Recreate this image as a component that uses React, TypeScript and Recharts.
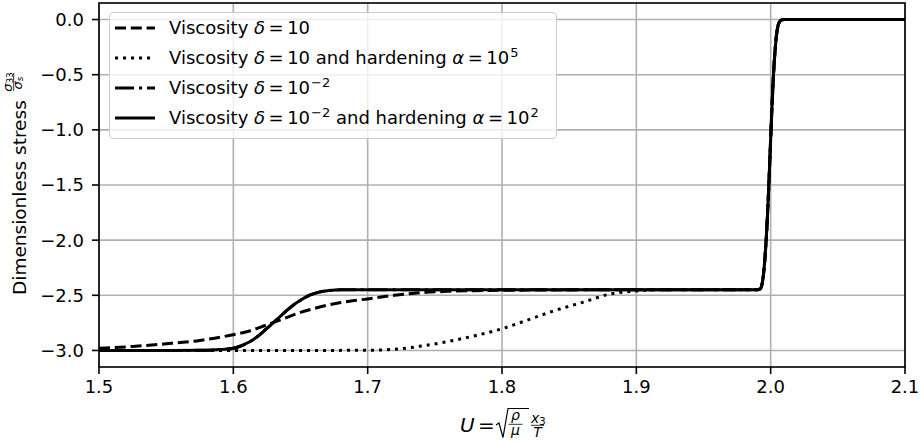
import { LineChart, Line, XAxis, YAxis, CartesianGrid, Legend, ReferenceArea } from 'recharts';

const FONT = 'DejaVu Sans';

// axis ticks
const uTicks = [1.5, 1.6, 1.7, 1.8, 1.9, 2.0, 2.1];
const stressTicks = [-3.0, -2.5, -2.0, -1.5, -1.0, -0.5, 0.0];

// Viscosity δ = 10 (dashed)
const uVisc10 = [1.5, 1.525, 1.55, 1.575, 1.6, 1.61, 1.62, 1.63, 1.64, 1.65, 1.66, 1.67, 1.68, 1.69, 1.7, 1.72, 1.74, 1.76, 1.78, 1.8, 1.85, 1.9, 1.99, 1.992, 1.994, 1.996, 1.998, 2.0, 2.002, 2.004, 2.006, 2.008, 2.01, 2.05, 2.1];
const sVisc10 = [-2.98, -2.964, -2.94, -2.909, -2.857, -2.83, -2.79, -2.745, -2.7, -2.655, -2.62, -2.59, -2.566, -2.548, -2.533, -2.5, -2.476, -2.464, -2.458, -2.455, -2.451, -2.45, -2.45, -2.445, -2.37, -2.12, -1.68, -1.08, -0.52, -0.18, -0.035, -0.004, 0, 0, 0];

// Viscosity δ = 10 and hardening α = 10^5 (dotted)
const uVisc10Hard = [1.5, 1.6, 1.65, 1.7, 1.72, 1.74, 1.76, 1.78, 1.8, 1.82, 1.84, 1.86, 1.88, 1.9, 1.92, 1.99, 1.992, 1.994, 1.996, 1.998, 2.0, 2.002, 2.004, 2.006, 2.008, 2.01, 2.05, 2.1];
const sVisc10Hard = [-3.0, -3.0, -3.0, -2.998, -2.99, -2.96, -2.918, -2.866, -2.803, -2.72, -2.636, -2.564, -2.49, -2.46, -2.45, -2.45, -2.445, -2.37, -2.12, -1.68, -1.08, -0.52, -0.18, -0.035, -0.004, 0, 0, 0];

// Viscosity δ = 10^-2 (dash-dot, lies under the solid curve)
const uVisc001 = [1.5, 1.55, 1.58, 1.59, 1.6, 1.605, 1.61, 1.615, 1.62, 1.625, 1.63, 1.635, 1.64, 1.645, 1.65, 1.655, 1.66, 1.665, 1.67, 1.675, 1.68, 1.7, 1.8, 1.9, 1.99, 1.992, 1.994, 1.996, 1.998, 2.0, 2.002, 2.004, 2.006, 2.008, 2.01, 2.05, 2.1];
const sVisc001 = [-3.0, -3.0, -2.998, -2.992, -2.98, -2.962, -2.935, -2.9, -2.855, -2.8, -2.745, -2.69, -2.635, -2.585, -2.545, -2.51, -2.485, -2.468, -2.458, -2.453, -2.45, -2.45, -2.45, -2.45, -2.45, -2.445, -2.37, -2.12, -1.68, -1.08, -0.52, -0.18, -0.035, -0.004, 0, 0, 0];

// Viscosity δ = 10^-2 and hardening α = 10^2 (solid)
const uVisc001Hard = [1.5, 1.55, 1.58, 1.59, 1.6, 1.605, 1.61, 1.615, 1.62, 1.625, 1.63, 1.635, 1.64, 1.645, 1.65, 1.655, 1.66, 1.665, 1.67, 1.675, 1.68, 1.7, 1.8, 1.9, 1.99, 1.992, 1.994, 1.996, 1.998, 2.0, 2.002, 2.004, 2.006, 2.008, 2.01, 2.05, 2.1];
const sVisc001Hard = [-3.0, -3.0, -2.998, -2.992, -2.98, -2.962, -2.935, -2.9, -2.855, -2.8, -2.745, -2.69, -2.635, -2.585, -2.545, -2.51, -2.485, -2.468, -2.458, -2.453, -2.45, -2.45, -2.45, -2.45, -2.45, -2.445, -2.37, -2.12, -1.68, -1.08, -0.52, -0.18, -0.035, -0.004, 0, 0, 0];

const zip = (u: number[], s: number[]) => u.map((x, i) => ({ u: x, s: s[i] }));

const DASHED = '11 4.8';
const DOTTED = '3 5';
const DASHDOT = '19 5 3 5';

// mathtext-ish bits for the legend
const sup = (t: string) => (
    <span style={{ fontSize: 13, position: 'relative', top: -7, marginLeft: 1 }}>{t}</span>
);
const eq = <span style={{ margin: '0 3.5px' }}>=</span>;

const legendRows = [
    { dash: DASHED, label: <>Viscosity <i>δ</i>{eq}10</> },
    { dash: DOTTED, label: <>Viscosity <i>δ</i>{eq}10 and hardening <i>α</i>{eq}10{sup('5')}</> },
    { dash: DASHDOT, label: <>Viscosity <i>δ</i>{eq}10{sup('−2')}</> },
    { dash: undefined, label: <>Viscosity <i>δ</i>{eq}10{sup('−2')} and hardening <i>α</i>{eq}10{sup('2')}</> },
];

const LegendBox = () => (
    <div style={{
        width: 448, height: 127, boxSizing: 'border-box', border: '1.6px solid #cccccc', borderRadius: 4,
        background: 'rgba(255,255,255,0.8)', fontFamily: FONT, fontSize: 18, color: '#000',
    }}>
        {legendRows.map((r, i) => (
            <div key={i} style={{ display: 'flex', alignItems: 'center', height: 30, whiteSpace: 'nowrap' }}>
                <svg width={40} height={6} style={{ marginLeft: 5, marginRight: 14, flex: 'none' }}>
                    <line x1={0} x2={40} y1={3} y2={3} stroke="#000" strokeWidth={3} strokeDasharray={r.dash} />
                </svg>
                <span>{r.label}</span>
            </div>
        ))}
    </div>
);

// U = sqrt(rho/mu) x3/T
const XLabelMath = () => (
    <g fontFamily={FONT} fill="#000">
        <text x={460} y={431.7} fontSize={20} fontStyle="italic">U</text>
        <text x={478} y={431.7} fontSize={20}>=</text>
        <path d="M496 425 L499 423 L503 437.5 L508 408.5 L529 408.5" fill="none" stroke="#000" strokeWidth={1.2} />
        <text x={515.5} y={419.5} fontSize={14} fontStyle="italic" textAnchor="middle">ρ</text>
        <line x1={508.5} x2={522.5} y1={424.3} y2={424.3} stroke="#000" strokeWidth={0.8} />
        <text x={515.5} y={434.5} fontSize={14} fontStyle="italic" textAnchor="middle">μ</text>
        <text x={531} y={422.7} fontSize={14} fontStyle="italic">x<tspan fontSize={10} fontStyle="normal" dy={2}>3</tspan></text>
        <line x1={531} x2={544} y1={425.3} y2={425.3} stroke="#000" strokeWidth={0.8} />
        <text x={537.5} y={437} fontSize={14} fontStyle="italic" textAnchor="middle">T</text>
    </g>
);

// Dimensionless stress sigma33/sigma_s
const YLabelMath = () => (
    <g transform="translate(26,184) rotate(-90)" fontFamily={FONT} fill="#000">
        <text x={-111} y={0} fontSize={18.5}>Dimensionless stress</text>
        <text x={102} y={-14.5} fontSize={13} fontStyle="italic" textAnchor="middle">σ<tspan fontSize={9} fontStyle="normal" dy={1.5}>33</tspan></text>
        <line x1={93} x2={111} y1={-12.3} y2={-12.3} stroke="#000" strokeWidth={0.8} />
        <text x={101} y={-4.5} fontSize={13} fontStyle="italic" textAnchor="middle">σ<tspan fontSize={9} dy={1.5}>s</tspan></text>
    </g>
);

const fmt = (v: number) => v.toFixed(1).replace('-', '\u2212');

export default function App() {
    const tick = { fill: '#000', fontSize: 18, fontFamily: FONT };
    return (
        <div style={{ position: 'absolute', left: 0, top: 0, width: 920, height: 443, background: '#fff' }}>
            <LineChart width={920} height={443} margin={{ top: 3, right: 15, left: 0, bottom: 0 }}>
                <CartesianGrid stroke="#b0b0b0" strokeWidth={1.6} />
                <XAxis
                    dataKey="u"
                    type="number"
                    domain={[1.5, 2.1]}
                    ticks={uTicks}
                    allowDataOverflow
                    tickFormatter={fmt}
                    height={76}
                    axisLine={false}
                    tickLine={{ stroke: '#000', strokeWidth: 1.6 }}
                    tickSize={7}
                    tickMargin={6}
                    tick={tick}
                    label={{ content: () => <XLabelMath /> }}
                />
                <YAxis
                    type="number"
                    domain={[-3.15, 0.15]}
                    ticks={stressTicks}
                    allowDataOverflow
                    tickFormatter={fmt}
                    width={99}
                    axisLine={false}
                    tickLine={{ stroke: '#000', strokeWidth: 1.6 }}
                    tickSize={7}
                    tickMargin={8}
                    tick={tick}
                    label={{ content: () => <YLabelMath /> }}
                />
                <ReferenceArea x1={1.5} x2={2.1} y1={-3.15} y2={0.15} fill="none" stroke="#000" strokeWidth={1.6} ifOverflow="visible" />
                <Line data={zip(uVisc10, sVisc10)} dataKey="s" type="monotone" stroke="#000" strokeWidth={3} strokeDasharray={DASHED} dot={false} isAnimationActive={false} />
                <Line data={zip(uVisc10Hard, sVisc10Hard)} dataKey="s" type="monotone" stroke="#000" strokeWidth={3} strokeDasharray={DOTTED} dot={false} isAnimationActive={false} />
                <Line data={zip(uVisc001, sVisc001)} dataKey="s" type="monotone" stroke="#000" strokeWidth={3} strokeDasharray={DASHDOT} dot={false} isAnimationActive={false} />
                <Line data={zip(uVisc001Hard, sVisc001Hard)} dataKey="s" type="monotone" stroke="#000" strokeWidth={3} strokeLinejoin="round" dot={false} isAnimationActive={false} />
                <Legend
                    layout="horizontal"
                    verticalAlign="middle"
                    align="center"
                    content={() => <LegendBox />}
                    wrapperStyle={{ top: 11.5, left: 109, width: 448 }}
                />
            </LineChart>
        </div>
    );
}
